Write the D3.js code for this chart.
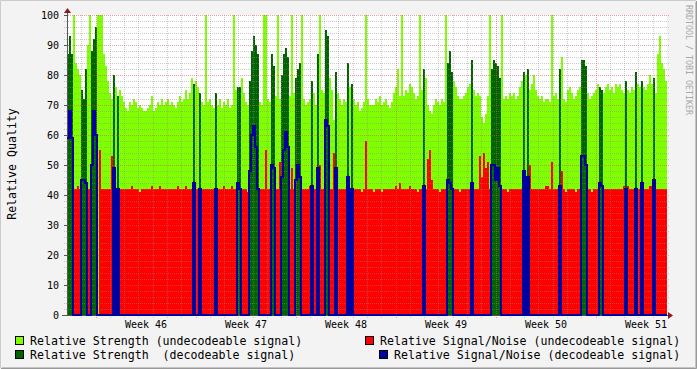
<!DOCTYPE html>
<html lang="en">
<head>
<meta charset="UTF-8">
<title>Relative Quality</title>
<script src="https://cdn.jsdelivr.net/npm/d3@7"></script>
<style>
  body { margin: 0; background: #f3f3f3; }
  text { font-family: "DejaVu Sans Mono", monospace; }
</style>
</head>
<body>
<svg width="697" height="369"></svg>
<script>
// one sample every ~3.4 hours, 12 Nov - 24 Dec
const strength = [
  87,93,87,100,84,82,80,75,72,82, 90,100,88,92,96,100,100,100,87,83,
  78,74,72,80,76,73,75,73,71,69, 68,71,70,72,71,69,70,69,68,68,
  69,70,73,68,69,71,70,72,70,71, 72,70,71,70,69,71,73,71,72,75,
  72,74,79,77,78,76,74,71,70,100, 71,72,70,69,74,70,72,69,71,70,
  72,69,70,100,75,76,76,79,74,71, 70,78,88,93,90,87,71,70,100,100,
  72,71,87,83,73,100,72,80,87,89, 86,73,100,74,79,82,84,100,72,70,
  71,72,78,74,70,87,100,75,74,95, 93,79,75,65,81,74,72,70,72,71,
  84,76,77,72,70,71,68,69,71,100, 72,70,70,70,72,71,73,70,71,72,
  70,69,71,74,76,82,73,100,73,75, 74,77,76,74,72,73,100,75,82,79,
  70,68,67,70,72,71,70,72,71,100, 84,88,81,78,76,73,72,72,73,74,
  76,77,85,75,73,74,73,66,64,67, 73,100,82,85,84,83,79,100,72,73,
  72,74,73,74,72,73,76,78,81,80, 82,75,77,80,75,73,72,73,71,72,
  72,71,100,73,74,72,82,86,72,71, 75,76,74,72,73,75,76,85,85,83,
  74,72,73,74,75,77,76,75,74,76, 77,75,76,74,77,76,77,75,74,78,
  75,74,76,75,81,77,76,78,76,75, 77,80,77,79,74,87,93,84,82,78
];
// 1 = decodeable signal, 0 = undecodeable
const decoded = [
  1,1,1,0,0,0,0,1,1,1, 0,0,1,1,1,0,0,0,0,0,
  0,0,0,1,0,1,0,0,0,0, 0,0,0,0,0,0,0,0,0,0,
  0,0,0,0,0,0,0,0,0,0, 0,0,0,0,0,0,0,0,0,0,
  0,0,0,1,0,0,1,0,0,0, 0,0,0,0,1,0,0,0,0,0,
  0,0,0,0,0,1,1,0,0,0, 0,1,1,1,1,1,0,0,0,0,
  0,0,1,1,0,0,0,1,1,1, 1,0,0,0,1,1,1,0,0,0,
  0,0,1,0,0,1,0,0,0,1, 1,0,0,0,1,0,0,0,0,0,
  1,0,1,0,0,0,0,0,0,0, 0,0,0,0,0,0,0,0,0,0,
  0,0,0,0,0,0,0,0,0,0, 0,0,0,0,0,0,0,0,1,0,
  0,0,0,0,0,0,0,0,0,0, 1,1,1,0,0,0,0,0,0,0,
  0,0,1,0,0,0,0,0,0,0, 0,0,1,1,1,1,1,0,0,0,
  0,0,0,0,0,0,0,0,1,0, 1,0,0,0,0,0,0,0,0,0,
  0,0,0,0,0,0,1,0,0,0, 0,0,0,0,0,0,0,1,1,1,
  0,0,0,0,0,0,1,1,0,0, 0,0,0,0,0,0,0,0,0,1,
  0,0,0,0,1,0,0,1,0,0, 0,0,0,1,0,0,0,0,0,0
];
const snr = [
  59,68,59,42,42,43,42,45,45,44, 42,42,50,68,60,0,55,42,42,42,
  42,42,53,49,42,42,42,42,42,42, 42,42,43,42,42,42,41,42,42,42,
  42,42,43,42,42,42,43,42,42,42, 42,42,42,42,42,43,42,42,42,43,
  42,42,42,44,42,42,42,42,42,42, 42,42,42,42,42,42,42,42,43,42,
  42,42,43,42,42,44,42,42,42,42, 41,48,60,63,56,42,42,42,42,55,
  42,42,50,49,42,42,51,46,55,61, 56,42,49,42,45,50,46,42,42,42,
  42,43,43,42,42,49,50,42,42,65, 63,42,42,54,49,42,42,42,42,42,
  46,42,42,42,42,42,42,41,42,58, 42,42,42,41,42,42,42,41,42,42,
  42,42,42,42,43,42,44,42,42,42, 42,43,42,42,42,41,42,42,43,42,
  52,55,45,42,42,42,41,42,42,42, 45,44,42,42,42,42,41,42,42,42,
  42,42,44,42,42,42,53,46,54,49, 51,42,50,50,45,49,43,42,42,42,
  41,42,42,42,42,42,42,42,48,42, 46,50,42,42,42,42,42,42,42,43,
  43,42,51,42,42,42,43,48,42,41, 42,42,42,42,41,42,42,53,53,50,
  42,42,41,42,42,42,44,43,42,42, 42,42,42,42,42,42,42,42,43,42,
  43,42,42,42,42,42,42,44,42,42, 42,43,43,45,42,42,42,42,42,42
];
const legendLabels = [
  "Relative Strength (undecodeable signal)",
  "Relative Strength  (decodeable signal)",
  "Relative Signal/Noise (undecodeable signal)",
  "Relative Signal/Noise (decodeable signal)"
];
const colors = ["#80ff00", "#006400", "#ff0000", "#0000a0"];

const t0 = Date.UTC(2011, 10, 12), t1 = Date.UTC(2011, 11, 24);
const step = (t1 - t0) / strength.length;
const rows = strength.map((s, i) => ({t: new Date(t0 + i * step), s: s, d: decoded[i], n: snr[i]}));
rows.push(Object.assign({}, rows[rows.length - 1], {t: new Date(t1)}));

const svg = d3.select("svg");
svg.append("rect").attr("width", 697).attr("height", 369).attr("fill", "#f3f3f3");
// frame shading
svg.append("path").attr("d", "M0.5,368 V0.5 H696").attr("stroke", "#cbcbcb").attr("fill", "none");
svg.append("path").attr("d", "M1,368.5 H696.5 V1").attr("stroke", "#999").attr("fill", "none");
svg.append("path").attr("d", "M2,367.5 H695.5 V2").attr("stroke", "#c4c4c4").attr("fill", "none");

const x = d3.scaleUtc().domain([new Date(t0), new Date(t1)]).range([67, 667]);
const y = d3.scaleLinear().domain([0, 100]).range([315, 15]);

svg.append("rect").attr("x", 67).attr("y", 15).attr("width", 600).attr("height", 300).attr("fill", "#fff");

const area = f => d3.area().x(d => x(d.t)).y0(y(0)).y1(d => y(f(d))).curve(d3.curveStepAfter);
const plot = svg.append("g").attr("shape-rendering", "crispEdges");
plot.append("path").attr("d", area(d => d.d ? 0 : d.s)(rows)).attr("fill", colors[0]);
plot.append("path").attr("d", area(d => d.d ? d.s : 0)(rows)).attr("fill", colors[1]);
plot.append("path").attr("d", area(d => d.d ? 0 : d.n)(rows)).attr("fill", colors[2]);

// grid on top
const grid = svg.append("g").attr("shape-rendering", "crispEdges").attr("stroke-dasharray", "1,1");
y.ticks(50).filter(v => v > 0).forEach(v => {
  const major = v % 10 === 0;
  grid.append("line").attr("x1", 64).attr("x2", 670)
    .attr("y1", Math.round(y(v)) + 0.5).attr("y2", Math.round(y(v)) + 0.5)
    .attr("stroke", major ? "rgba(224,80,80,0.55)" : "rgba(140,140,140,0.45)");
});
d3.utcDay.range(new Date(t0 + 1), new Date(t1)).forEach(d => {
  const major = d.getUTCDay() === 1;
  const xx = Math.round(x(d)) + 0.5;
  grid.append("line").attr("x1", xx).attr("x2", xx).attr("y1", 15).attr("y2", 318)
    .attr("stroke", major ? "rgba(224,80,80,0.55)" : "rgba(140,140,140,0.45)");
});

// axes
svg.append("line").attr("x1", 67.5).attr("x2", 67.5).attr("y1", 13).attr("y2", 316).attr("stroke", "#555");
svg.append("line").attr("x1", 62).attr("x2", 669).attr("y1", 315.5).attr("y2", 315.5).attr("stroke", "#555");
svg.append("path").attr("d", "M64,13 L71,13 L67.5,8 Z").attr("fill", "#8b1a1a");
svg.append("path").attr("d", "M668,312 L668,319 L673,315.5 Z").attr("fill", "#8b1a1a");

// S/N of decodeable signal is a line, drawn over everything else in the plot
svg.append("path")
  .attr("d", d3.line().x(d => x(d.t)).y(d => y(d.d ? d.n : 0)).curve(d3.curveStepAfter)(rows))
  .attr("fill", "none").attr("stroke", colors[3]).attr("stroke-width", 2);

const yAxis = svg.append("g").attr("transform", "translate(67,0)")
  .call(d3.axisLeft(y).ticks(10).tickSize(3).tickPadding(5));
yAxis.select(".domain").remove();
yAxis.selectAll("line").attr("stroke", "#555");
yAxis.selectAll("text").attr("font-size", "10px").attr("font-family", "DejaVu Sans Mono").attr("fill", "#000");

const weekCenters = d3.utcMonday.range(new Date(t0), new Date(t1)).map(d => d3.utcHour.offset(d, 84));
const xAxis = svg.append("g").attr("transform", "translate(0,316)")
  .call(d3.axisBottom(x).tickValues(weekCenters).tickSize(0).tickPadding(5).tickFormat(d3.utcFormat("Week %V")));
xAxis.select(".domain").remove();
xAxis.selectAll("text").attr("font-size", "10px").attr("font-family", "DejaVu Sans Mono").attr("fill", "#000");

// axis title and watermark
svg.append("text").attr("transform", "translate(16,164) rotate(-90)").attr("text-anchor", "middle")
  .attr("font-size", "11.6px").text("Relative Quality");
svg.append("text").attr("transform", "translate(686,5) rotate(90)")
  .attr("font-size", "8.3px").attr("fill", "#a8a8a8").text("RRDTOOL / TOBI OETIKER");

// legend
const legendPos = [[15, 336, 30], [15, 350, 30], [365, 336, 380], [379, 350, 394]];
legendLabels.forEach((lab, i) => {
  const p = legendPos[i];
  svg.append("rect").attr("x", p[0] + 0.5).attr("y", p[1] + 0.5).attr("width", 8).attr("height", 8)
    .attr("fill", colors[i]).attr("stroke", "#000").attr("shape-rendering", "crispEdges");
  svg.append("text").attr("x", p[2]).attr("y", p[1] + 8.5).attr("font-size", "11.6px")
    .style("white-space", "pre").text(lab);
});
</script>
</body>
</html>
